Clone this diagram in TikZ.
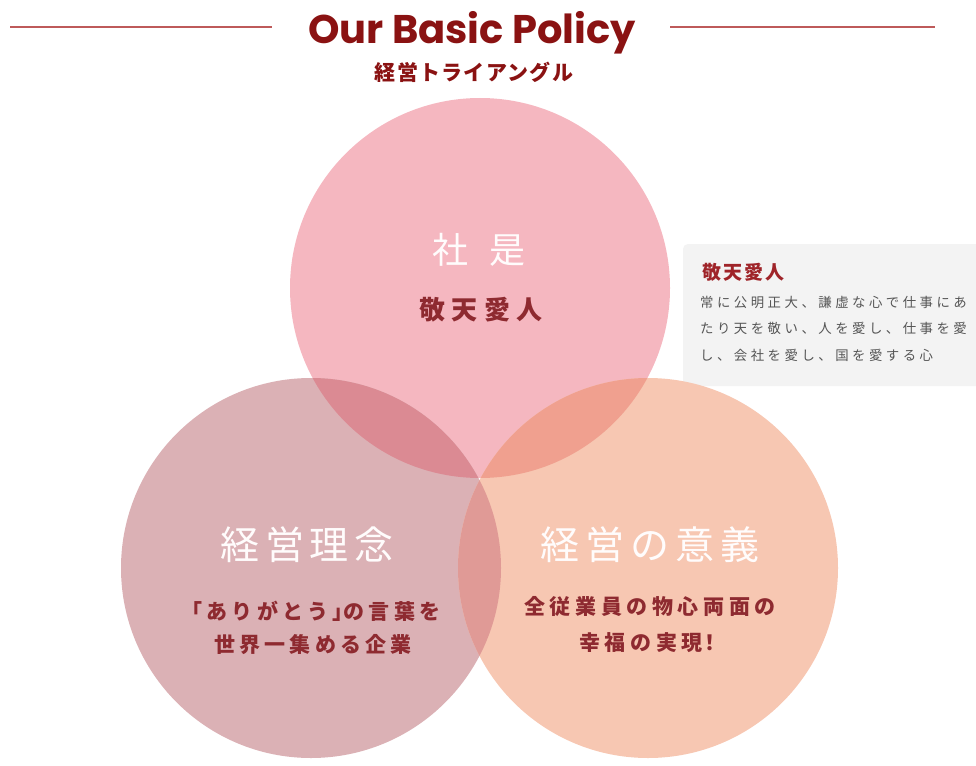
\documentclass[tikz,border=0pt]{standalone}
\usepackage{fontspec}
\setmainfont{Noto Sans CJK JP}
\newfontfamily\titlefont{Poppins}

\definecolor{deepred}{HTML}{8A1212}
\definecolor{textred}{HTML}{8E2A30}
\definecolor{rulered}{HTML}{BE5A5A}
\definecolor{pinkc}{HTML}{F5B7C0}
\definecolor{rosec}{HTML}{DBB1B5}
\definecolor{peachc}{HTML}{F7C7B2}
\definecolor{pinkrose}{HTML}{DB8A93}
\definecolor{pinkpeach}{HTML}{F0A08F}
\definecolor{rosepeach}{HTML}{E09A96}
\definecolor{allthree}{HTML}{D98580}
\definecolor{notegray}{HTML}{F3F3F3}
\definecolor{notetext}{HTML}{555555}

\tikzset{
  ring/.style={circle, minimum size=380pt, inner sep=0pt},
  head/.style={text=white!96!pink, font=\fontsize{39}{42}\selectfont\addfontfeature{LetterSpace=15}},
  value/.style={text=textred, align=center, font=\bfseries\fontsize{21}{33}\selectfont\addfontfeature{LetterSpace=20}},
}

\begin{document}
\begin{tikzpicture}[x=1pt, y=-1pt]
\useasboundingbox (0,0) rectangle (976,765);

\node[anchor=base, text=deepred, font=\titlefont\bfseries\fontsize{40}{44}\selectfont] (title) at (472,44) {Our Basic Policy};
\node[text=deepred, font=\bfseries\fontsize{21}{22}\selectfont\addfontfeature{LetterSpace=6}] (subtitle) at (474,72) {経営トライアングル};
\coordinate (ruleL) at (10,27);
\coordinate (ruleR) at (935,27);
\begin{scope}[line width=2.5pt, rulered]
\draw (ruleL) -- (272,27);
\draw (670,27) -- (ruleR);
\end{scope}

\node[rectangle, rounded corners=5pt, fill=notegray, minimum width=305pt, minimum height=142pt] (note) at (835.5,315) {};
\node[anchor=west, text=textred!85!red, font=\bfseries\fontsize{19}{22}\selectfont\addfontfeature{LetterSpace=10}] (noteT) at (699,272) {敬天愛人};
\node[anchor=north west, align=left, inner sep=0pt, text=notetext, font=\fontsize{13.4}{26.5}\selectfont\addfontfeature{LetterSpace=26}] (noteV) at (700,296) {常に公明正大、謙虚な心で仕事にあ\\たり天を敬い、人を愛し、仕事を愛\\し、会社を愛し、国を愛する心};

\begin{scope}[every node/.style={ring}]
\node[fill=pinkc] (shaze) at (480,288) {};
\node[fill=rosec] (rinen) at (311,568) {};
\node[fill=peachc] (igi) at (648,568) {};
\end{scope}
\begin{scope}
\clip (shaze.center) circle (190);
\fill[pinkrose] (rinen.center) circle (190);
\fill[pinkpeach] (igi.center) circle (190);
\end{scope}
\begin{scope}
\clip (rinen.center) circle (190);
\fill[rosepeach] (igi.center) circle (190);
\clip (igi.center) circle (190);
\fill[allthree] (shaze.center) circle (190);
\end{scope}

\node[head, font=\fontsize{36}{40}\selectfont\addfontfeature{LetterSpace=60}] (shazeT) at (479,250) {社是};
\node[value, font=\bfseries\fontsize{26}{30}\selectfont\addfontfeature{LetterSpace=25}] (shazeV) at (481,310) {敬天愛人};
\node[head] (rinenT) at (307,545) {経営理念};
\node[value] (rinenV) at (313,628) {\kern-4pt「ありがとう」\kern-10pt の言葉を\\世界一集める企業};
\node[head] (igiT) at (650,545) {経営の意義};
\node[value, font=\bfseries\fontsize{21}{36}\selectfont\addfontfeature{LetterSpace=22}] (igiV) at (650,625) {全従業員の物心両面の\\幸福の実現\kern-3pt ！};
\end{tikzpicture}
\end{document}
